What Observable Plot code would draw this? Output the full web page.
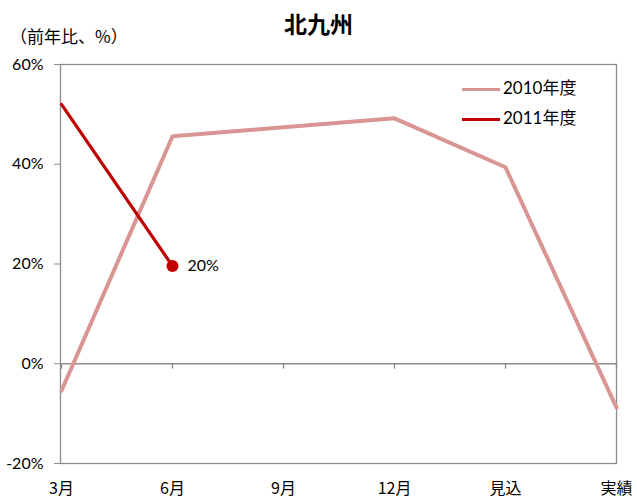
<!DOCTYPE html>
<html><head><meta charset="utf-8">
<script src="https://cdn.jsdelivr.net/npm/d3@7"></script>
<script src="https://cdn.jsdelivr.net/npm/@observablehq/plot@0.6"></script>
<style>
body{margin:0;background:#fff;font-family:Lato,"Noto Sans CJK JP",sans-serif;}
#wrap{position:relative;width:637px;height:503px;}
.ov{position:absolute;color:#000;white-space:nowrap;}
.sw{display:inline-block;width:38px;height:3px;vertical-align:middle;margin-right:3px;}
</style></head><body>
<div id="wrap"></div>
<script>
const categories = ["3月","6月","9月","12月","見込","実績"];
const series2010 = [-5.4, 45.6, 47.4, 49.2, 39.4, -8.8];
const series2011 = [52.0, 19.6, null, null, null, null];
const yTicks = [-20, 0, 20, 40, 60];
const seriesNames = ["2010年度","2011年度"];
const colors = ["#D99594","#C00000"];
const labelText = "20%";

const d2010 = categories.map((c,i)=>({c, v: series2010[i]}));
const d2011 = categories.map((c,i)=>({c, v: series2011[i]})).filter(d=>d.v!=null);
const last2011 = d2011[d2011.length-1];

const font = 'Lato,"Noto Sans CJK JP",sans-serif';
const chart = Plot.plot({
  width: 637, height: 503,
  marginLeft: 60, marginRight: 21, marginTop: 64, marginBottom: 40,
  style: {fontFamily: font, fontSize: "16px", color: "#000", background: "#fff"},
  x: {type: "point", domain: categories, padding: 0},
  y: {domain: [-20, 60], ticks: yTicks},
  marks: [
    Plot.frame({stroke: "#8c8c8c", strokeWidth: 1.3}),
    Plot.ruleY([0], {stroke: "#8c8c8c", strokeWidth: 1.3}),
    Plot.ruleX(categories, {x: d=>d, y1: 0, y2: -1.1, stroke: "#8c8c8c", strokeWidth: 1.3}),
    Plot.axisY({ticks: yTicks, tickFormat: d=>d+"%", tickSize: 6, stroke: "#8c8c8c", tickPadding: 11, fontSize: 16, label: null}),
    Plot.axisX({tickSize: 0, tickPadding: 19, fontSize: 16, fontFamily: '"Noto Sans CJK JP",sans-serif', label: null}),
    Plot.line(d2010, {x: "c", y: "v", stroke: colors[0], strokeWidth: 4, strokeLinejoin: "miter"}),
    Plot.line(d2011, {x: "c", y: "v", stroke: colors[1], strokeWidth: 3.2}),
    Plot.dot([last2011], {x: "c", y: "v", r: 6, fill: colors[1], stroke: "none"}),
    Plot.text([last2011], {x: "c", y: "v", text: ()=>labelText, dx: 15, textAnchor: "start", fontSize: 16, fill: "#000"})
  ]
});
const wrap = document.getElementById("wrap");
wrap.appendChild(chart);

function ov(html, style){const d=document.createElement("div");d.className="ov";d.innerHTML=html;Object.assign(d.style,style);wrap.appendChild(d);}
ov("北九州", {left:"0", width:"637px", textAlign:"center", top:"6px", fontSize:"23px", fontWeight:"bold", fontFamily:'"Noto Sans CJK JP",sans-serif'});
ov("（前年比、%）", {left:"10px", top:"23px", fontSize:"17px", fontFamily:'"Noto Sans CJK JP",sans-serif'});
seriesNames.forEach((n,i)=>{
  ov(`<span class="sw" style="background:${colors[i]}"></span>${n}`, {left:"462px", top:(74+i*30)+"px", fontSize:"17px"});
});
</script>
</body></html>
